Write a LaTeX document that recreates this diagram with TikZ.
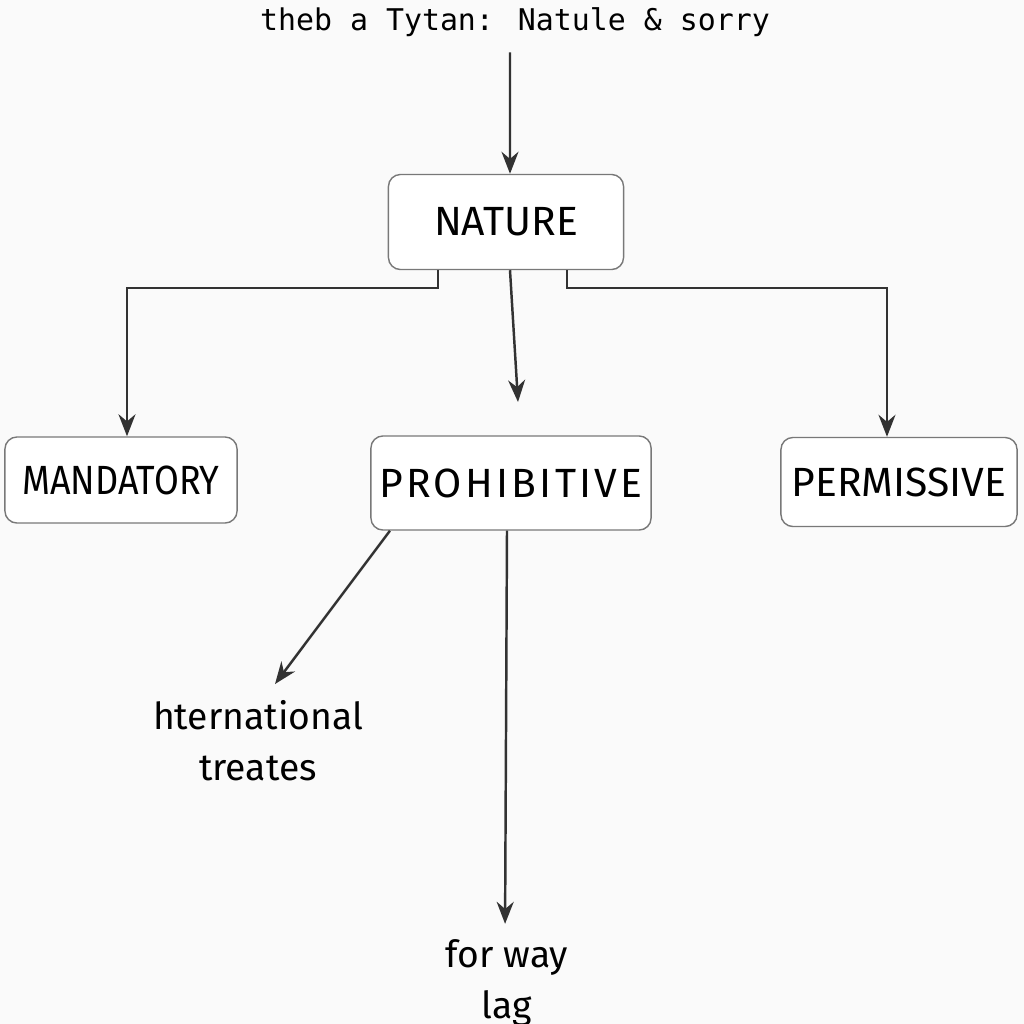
\documentclass[tikz,border=0pt]{standalone}
\usepackage{fontspec}
\setmainfont{Fira Sans}
\newfontfamily\titlefont{DejaVu Sans Mono}
\usepackage{tikz}
\usetikzlibrary{arrows.meta, positioning, calc}
\definecolor{lineGray}{RGB}{50,50,50}
\definecolor{boxGray}{RGB}{120,120,120}

\begin{document}
\begin{tikzpicture}[x=0.01cm, y=-0.01cm,
    kind/.style={rectangle, rounded corners=0.12cm, draw=boxGray, thin, fill=white, inner sep=0pt, font=\fontsize{11.6}{13}\selectfont},
    note/.style={align=center, inner sep=0pt, font=\fontsize{10.6}{14.5}\selectfont},
    arr/.style={-{Stealth[length=0.22cm, width=0.17cm]}, draw=lineGray, line width=0.7pt}]

    \fill[black!2] (0,0) rectangle (1024,1024);
    \useasboundingbox (0,0) rectangle (1024,1024);

    \node[inner sep=0pt, font=\titlefont\fontsize{8.5}{10}\selectfont] (title) at (515,22) {theb a Tytan: Natule \& sorry};

    \node[kind, minimum width=2.35cm, minimum height=0.95cm] (nature) at (506,222) {NATURE};
    \node[kind, minimum width=2.32cm, minimum height=0.86cm] (mand) at (121,480) {\addfontfeature{FakeStretch=0.88}MANDATORY};
    \node[kind, minimum width=2.80cm, minimum height=0.94cm] (prohib) at (511,483) {\addfontfeature{LetterSpace=8}PROHIBITIVE};
    \node[kind, minimum width=2.36cm, minimum height=0.89cm] (permis) at (899,482) {PERMISSIVE};

    \node[note] (intl) at (258,741) {hternational\\treates};
    \node[note] (forway) at (507,983) {for way\\lag};
    \coordinate (midend) at (518,402);

    \draw[arr, shorten <=0.15cm] ([xshift=-0.05cm]title.south) -- ([xshift=0.04cm]nature.north);
    \draw[arr] ([xshift=-0.68cm]nature.south) -- ++(0,18) -| ([xshift=0.06cm]mand.north);
    \draw[arr] ([xshift=0.04cm]nature.south) -- (midend);
    \draw[arr] ([xshift=0.61cm]nature.south) -- ++(0,18) -| ([xshift=-0.12cm]permis.north);

    \draw[arr, shorten >=0.2cm] ([xshift=-1.21cm]prohib.south) -- ([xshift=0.05cm]intl.north);
    \draw[arr, shorten >=0.15cm] ([xshift=-0.04cm]prohib.south) -- ([xshift=-0.02cm]forway.north);
\end{tikzpicture}
\end{document}
